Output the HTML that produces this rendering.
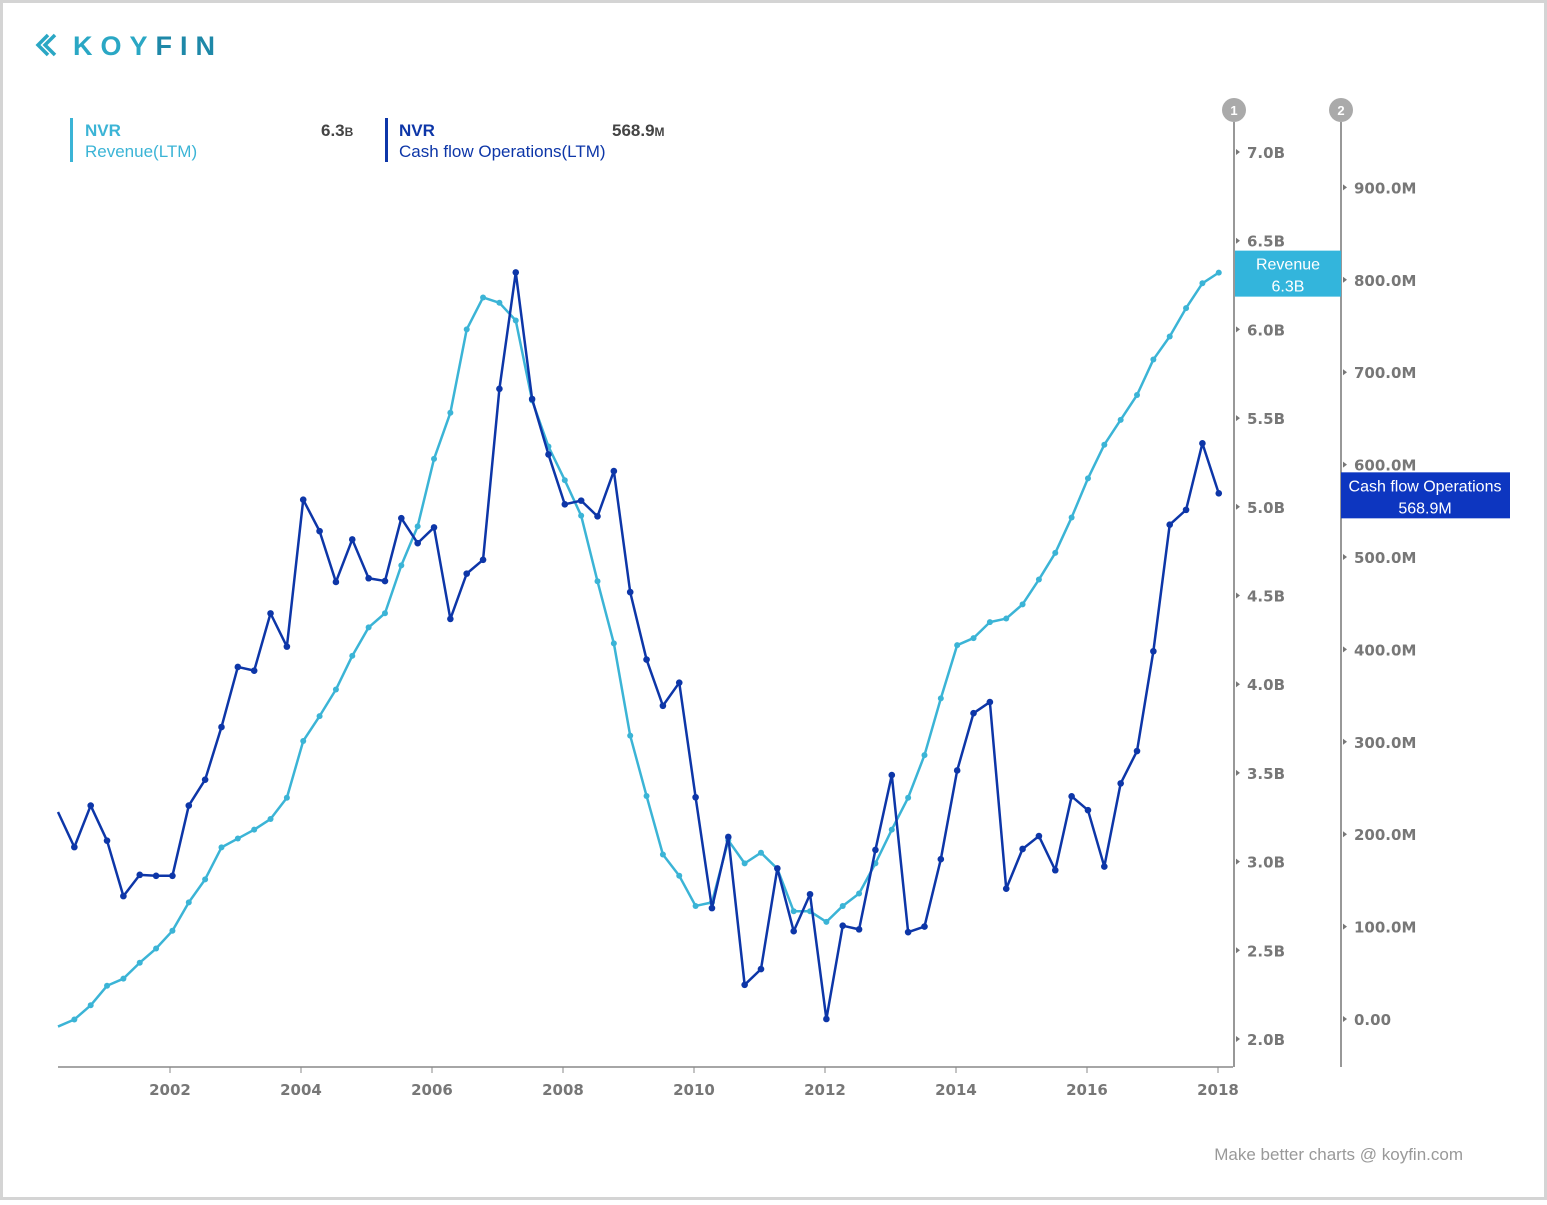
<!DOCTYPE html>
<html><head><meta charset="utf-8"><style>
html,body{margin:0;padding:0;background:#fff}
body{width:1547px;height:1200px;position:relative;overflow:hidden;font-family:"Liberation Sans",sans-serif}
svg text{font-family:"Liberation Sans",sans-serif}
svg text.tick{font-family:"DejaVu Sans",sans-serif}
</style></head><body>
<svg id="chart" width="1547" height="1200" xmlns="http://www.w3.org/2000/svg">
<rect x="1.5" y="1.5" width="1544" height="1197" fill="#fff" stroke="#d4d4d4" stroke-width="3"/>
<g>
<path d="M48 35 L38 45 L48 55 M55 35 L45 45 L55 55" stroke="#2aa7c4" stroke-width="3.5" fill="none"/>
<text x="73" y="55" font-size="27" font-weight="bold" fill="#2aa7c4" letter-spacing="8">KOY<tspan fill="#1e88a8">FIN</tspan></text>
</g>
<g>
<rect x="70" y="118" width="3" height="44" fill="#3bb4d6"/>
<text x="85" y="136" font-size="17" font-weight="bold" fill="#3bb4d6">NVR</text>
<text x="85" y="157" font-size="17" fill="#3bb4d6">Revenue(LTM)</text>
<text x="321" y="136" font-size="17" font-weight="bold" fill="#444">6.3<tspan font-size="12">B</tspan></text>
</g>
<g>
<rect x="385" y="118" width="3" height="44" fill="#0d36a8"/>
<text x="399" y="136" font-size="17" font-weight="bold" fill="#0d36a8">NVR</text>
<text x="399" y="157" font-size="17" fill="#0d36a8">Cash flow Operations(LTM)</text>
<text x="612" y="136" font-size="17" font-weight="bold" fill="#444">568.9<tspan font-size="12">M</tspan></text>
</g>
<g id="axes"></g>
<g id="series"></g>
<text x="1463" y="1160" font-size="17" fill="#999" text-anchor="end">Make better charts @ koyfin.com</text>
</svg>
<script>
const revenue=[2.07,2.11,2.19,2.30,2.34,2.43,2.51,2.61,2.77,2.90,3.08,3.13,3.18,3.24,3.36,3.68,3.82,3.97,4.16,4.32,4.40,4.67,4.89,5.27,5.53,6.00,6.18,6.15,6.05,5.60,5.34,5.15,4.95,4.58,4.23,3.71,3.37,3.04,2.92,2.75,2.77,3.12,2.99,3.05,2.96,2.72,2.72,2.66,2.75,2.82,2.99,3.18,3.36,3.60,3.92,4.22,4.26,4.35,4.37,4.45,4.59,4.74,4.94,5.16,5.35,5.49,5.63,5.83,5.96,6.12,6.26,6.32];
const cashflow=[224,186,231,193,133,156,155,155,231,259,316,381,377,439,403,562,528,473,519,477,474,542,515,532,433,482,497,682,808,671,611,557,561,544,593,462,389,339,364,240,120,197,37,54,163,95,135,0,101,97,183,264,94,100,173,269,331,343,141,184,198,161,241,226,165,255,290,398,535,551,623,568.9];
const startYear=2000.29;
const stepYear=0.2496;
const revTicks=[2.0,2.5,3.0,3.5,4.0,4.5,5.0,5.5,6.0,6.5,7.0];
const revTickLabels=["2.0B","2.5B","3.0B","3.5B","4.0B","4.5B","5.0B","5.5B","6.0B","6.5B","7.0B"];
const cfTicks=[0,100,200,300,400,500,600,700,800,900];
const cfTickLabels=["0.00","100.0M","200.0M","300.0M","400.0M","500.0M","600.0M","700.0M","800.0M","900.0M"];
const yearTicks=[2002,2004,2006,2008,2010,2012,2014,2016,2018];

const NS="http://www.w3.org/2000/svg";
const xS=t=>170+(t-2002)*65.5;
const yR=v=>152+(7-v)*177.4;
const yC=v=>1019-v*0.924;
function mk(tag,attrs,parent,txt){const e=document.createElementNS(NS,tag);for(const k in attrs)e.setAttribute(k,attrs[k]);if(txt!=null)e.textContent=txt;parent.appendChild(e);return e;}
const ax=document.getElementById('axes'), se=document.getElementById('series');
let l=mk('line',{x1:58,y1:1067,x2:1233,y2:1067,stroke:'#888','stroke-width':1.5},ax);


yearTicks.forEach(y=>{
  mk('line',{x1:xS(y),y1:1067,x2:xS(y),y2:1073,stroke:'#888'},ax);
  const t=mk('text',{class:'tick',x:xS(y),y:1095,'font-size':15,'font-weight':'bold',fill:'#777','text-anchor':'middle'},ax,String(y));
  
  
});
[[1234,'1','y-axis-revenue'],[1341,'2','y-axis-cashflow']].forEach(([x,n,nm])=>{
  const a=mk('line',{x1:x,y1:122,x2:x,y2:1067,stroke:'#777','stroke-width':1.5},ax);
  
  
  const c=mk('circle',{cx:x,cy:110,r:12,fill:'#aaa'},ax);
  
  
  mk('text',{x:x,y:115,'font-size':13,'font-weight':'bold',fill:'#fff','text-anchor':'middle'},ax,n);
});
revTicks.forEach((v,i)=>{
  const y=yR(v);
  mk('path',{d:`M1236 ${y-3} L1240 ${y} L1236 ${y+3}Z`,fill:'#777'},ax);
  const t=mk('text',{class:'tick',x:1247,y:y+6,'font-size':15,'font-weight':'bold',fill:'#777'},ax,revTickLabels[i]);
  
  
});
cfTicks.forEach((v,i)=>{
  const y=yC(v);
  mk('path',{d:`M1343 ${y-3} L1347 ${y} L1343 ${y+3}Z`,fill:'#777'},ax);
  const t=mk('text',{class:'tick',x:1354,y:y+6,'font-size':15,'font-weight':'bold',fill:'#777'},ax,cfTickLabels[i]);
  
  
});
function series(vals,ys,color,r,w,name){
  const g=mk('g',{},se);
  
  
  const pts=vals.map((v,i)=>[xS(startYear+i*stepYear),ys(v)]);
  mk('polyline',{points:pts.map(p=>p.join(',')).join(' '),fill:'none',stroke:color,'stroke-width':w,'stroke-linejoin':'round'},g);
  pts.forEach((p,i)=>{if(i===0)return;const c=mk('circle',{cx:p[0],cy:p[1],r:r,fill:color},g);
    
    });
}
series(revenue,yR,'#3bb4d6',3,2.5,'revenue-line');
series(cashflow,yC,'#0d36a8',3.3,2.5,'cashflow-line');
const rv=revenue[revenue.length-1], cv=cashflow[cashflow.length-1];
let b=mk('g',{},ax);


mk('rect',{x:1235,y:yR(rv)-22,width:106,height:46,fill:'#33b5dc'},b);
mk('text',{x:1288,y:yR(rv)-3,'font-size':16,fill:'#fff','text-anchor':'middle'},b,'Revenue');
mk('text',{x:1288,y:yR(rv)+19,'font-size':16,fill:'#fff','text-anchor':'middle'},b,rv.toFixed(1)+'B');
b=mk('g',{},ax);


mk('rect',{x:1341,y:yC(cv)-21,width:169,height:46,fill:'#0d36c0'},b);
mk('text',{x:1425,y:yC(cv)-2,'font-size':16,fill:'#fff','text-anchor':'middle'},b,'Cash flow Operations');
mk('text',{x:1425,y:yC(cv)+20,'font-size':16,fill:'#fff','text-anchor':'middle'},b,cv.toFixed(1)+'M');
</script>
</body></html>
